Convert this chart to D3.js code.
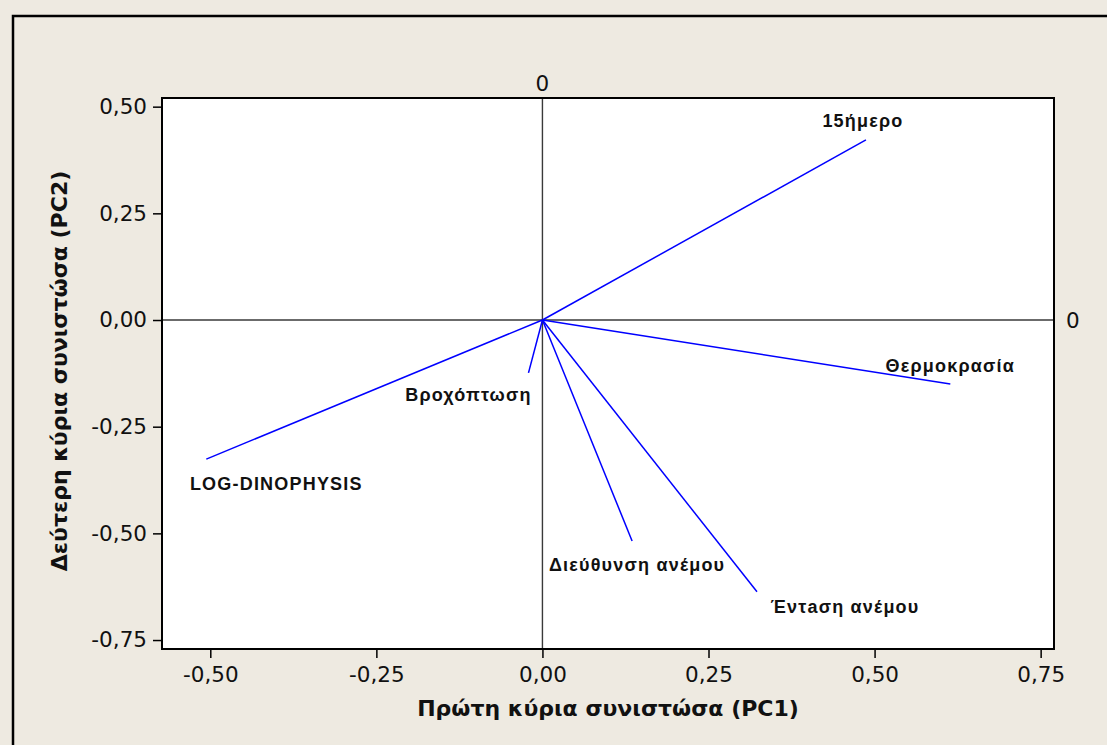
<!DOCTYPE html>
<html>
<head>
<meta charset="utf-8">
<script src="https://cdn.jsdelivr.net/npm/d3@7"></script>
<style>
  html, body { margin: 0; padding: 0; background: #EEEAE1; }
  svg { display: block; }
</style>
</head>
<body>
<svg id="chart" width="1107" height="745"></svg>
<script>
// ---- data ----
const variables = ["15ήμερο", "Θερμοκρασία", "Έντaση ανέμου", "Διεύθυνση ανέμου", "Βροχόπτωση", "LOG-DINOPHYSIS"];
const pc1 = [0.487, 0.614, 0.323, 0.135, -0.021, -0.506];
const pc2 = [0.422, -0.150, -0.637, -0.518, -0.124, -0.326];
const xTicks = [-0.50, -0.25, 0.00, 0.25, 0.50, 0.75];
const yTicks = [-0.75, -0.50, -0.25, 0.00, 0.25, 0.50];
const xTitle = "Πρώτη κύρια συνιστώσα (PC1)";
const yTitle = "Δεύτερη κύρια συνιστώσα (PC2)";
const refLabel = "0";

// ---- layout (pixel styling) ----
const plot = { left: 162, right: 1054, top: 98, bottom: 649 };
const labelOffsets = [[-3, -13], [0, -12], [88, 21], [5, 30], [-60, 28], [70, 31]];

const svg = d3.select("#chart");
const fmt = v => d3.format(".2f")(v).replace(".", ",").replace("−", "-");

const x = d3.scaleLinear().domain([-0.5727, 0.7701]).range([plot.left, plot.right]);
const y = d3.scaleLinear().domain([-0.7710, 0.5203]).range([plot.bottom, plot.top]);

// background and outer frame
svg.append("rect").attr("x", 0).attr("y", 0).attr("width", 1107).attr("height", 745).attr("fill", "#EEEAE1");
svg.append("rect").attr("x", 13).attr("y", 16).attr("width", 1200).attr("height", 800)
  .attr("fill", "none").attr("stroke", "#000").attr("stroke-width", 2.5);

// plot area
svg.append("rect").attr("x", plot.left).attr("y", plot.top)
  .attr("width", plot.right - plot.left).attr("height", plot.bottom - plot.top)
  .attr("fill", "#fff");

// reference lines
svg.append("line").attr("x1", plot.left).attr("x2", plot.right).attr("y1", y(0)).attr("y2", y(0))
  .attr("stroke", "#3a3a3a").attr("stroke-width", 1.4);
svg.append("line").attr("x1", x(0)).attr("x2", x(0)).attr("y1", plot.top).attr("y2", plot.bottom)
  .attr("stroke", "#3a3a3a").attr("stroke-width", 1.4);

// vectors
svg.append("g").selectAll("line").data(variables).join("line")
  .attr("x1", x(0)).attr("y1", y(0))
  .attr("x2", (d, i) => x(pc1[i])).attr("y2", (d, i) => y(pc2[i]))
  .attr("stroke", "#0000ff").attr("stroke-width", 1.5);

// vector labels
svg.append("g").selectAll("text").data(variables).join("text")
  .attr("x", (d, i) => x(pc1[i]) + labelOffsets[i][0])
  .attr("y", (d, i) => y(pc2[i]) + labelOffsets[i][1])
  .attr("text-anchor", "middle")
  .attr("font-family", "'Liberation Sans', Arial, sans-serif")
  .attr("font-weight", "bold")
  .attr("font-size", 18)
  .attr("letter-spacing", 1.2)
  .attr("fill", "#111")
  .text(d => d);

// plot border
svg.append("rect").attr("x", plot.left).attr("y", plot.top)
  .attr("width", plot.right - plot.left).attr("height", plot.bottom - plot.top)
  .attr("fill", "none").attr("stroke", "#000").attr("stroke-width", 2);

// axes
const xAxis = svg.append("g").attr("transform", `translate(0,${plot.bottom + 1})`)
  .call(d3.axisBottom(x).tickValues(xTicks).tickFormat(fmt).tickSize(8).tickPadding(9));
const yAxis = svg.append("g").attr("transform", `translate(${plot.left - 1},0)`)
  .call(d3.axisLeft(y).tickValues(yTicks).tickFormat(fmt).tickSize(8).tickPadding(6));
[xAxis, yAxis].forEach(g => {
  g.select(".domain").remove();
  g.selectAll(".tick line").attr("stroke", "#000").attr("stroke-width", 1.5);
  g.selectAll(".tick text").attr("font-family", "'DejaVu Sans', sans-serif").attr("font-size", 21.5).attr("fill", "#111");
});

// reference line labels
svg.append("text").attr("x", x(0)).attr("y", plot.top - 7).attr("text-anchor", "middle")
  .attr("font-family", "'DejaVu Sans', sans-serif").attr("font-size", 21.5).attr("fill", "#111").text(refLabel);
svg.append("text").attr("x", plot.right + 12).attr("y", y(0)).attr("dy", "0.36em")
  .attr("font-family", "'DejaVu Sans', sans-serif").attr("font-size", 21.5).attr("fill", "#111").text(refLabel);

// axis titles
svg.append("text").attr("x", 608).attr("y", 716)
  .attr("text-anchor", "middle")
  .attr("font-family", "'DejaVu Sans', sans-serif").attr("font-weight", "bold").attr("font-size", 22)
  .attr("fill", "#111").text(xTitle);
svg.append("text").attr("transform", `translate(67,371) rotate(-90)`)
  .attr("text-anchor", "middle")
  .attr("font-family", "'DejaVu Sans', sans-serif").attr("font-weight", "bold").attr("font-size", 22)
  .attr("fill", "#111").text(yTitle);
</script>
</body>
</html>
